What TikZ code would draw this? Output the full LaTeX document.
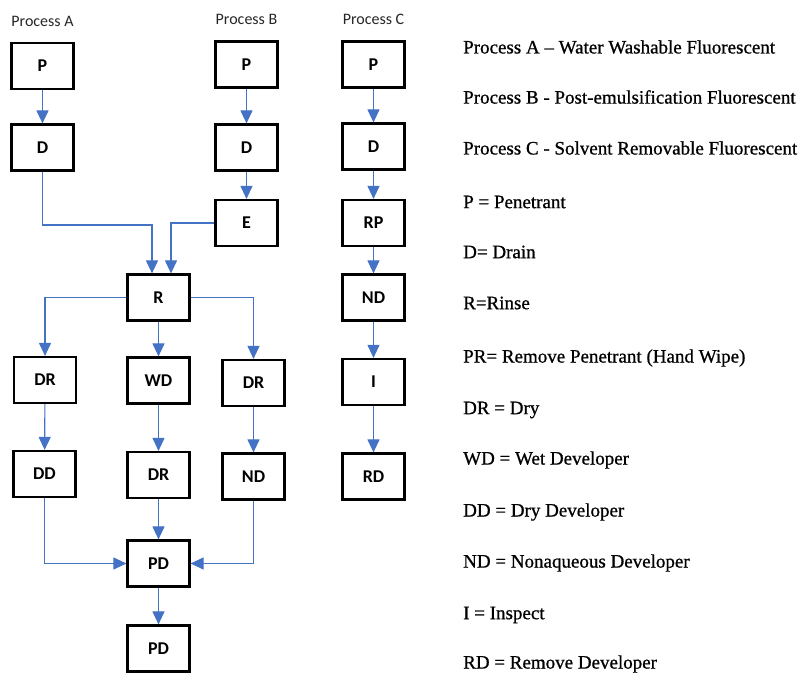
\documentclass[tikz,border=0pt]{standalone}
\usepackage{fontspec}
\setmainfont{Liberation Serif}
\newfontfamily\boxfont{Carlito}
\newfontfamily\legfont[FakeBold=0.8,Ligatures=TeX]{Liberation Serif}
\usetikzlibrary{arrows.meta}
\definecolor{arrblue}{HTML}{4472C4}
\tikzset{
  stepbox/.style={draw=black, line width=2.2pt, minimum width=62pt, minimum height=46pt, inner sep=0pt, font=\boxfont\bfseries\fontsize{18}{18}\selectfont},
  ttl/.style={font=\boxfont\fontsize{16}{16}\selectfont, inner sep=0pt, text=black!85},
  leg/.style={anchor=west, inner sep=0pt, font=\legfont\fontsize{19}{19}\selectfont},
  arr/.style={draw=arrblue, line width=1.1pt, -{Triangle[width=12pt,length=13pt,fill=arrblue]}}
}
\begin{document}
\begin{tikzpicture}[x=1pt,y=-1pt]
\useasboundingbox (0,0) rectangle (807,674);
% titles
\node[ttl] (tA) at (42.5,21) {Process A};
\node[ttl] (tB) at (246.5,19) {Process B};
\node[ttl] (tC) at (373.5,19) {Process C};
% Process A
\node[stepbox] (aP) at (42.5,66) {P};
\node[stepbox] (aD) at (42.5,147.5) {D};
% Process B
\node[stepbox] (bP) at (246.5,64.5) {P};
\node[stepbox] (bD) at (246.5,147.5) {D};
\node[stepbox] (bE) at (246.5,223) {E};
% Process C
\node[stepbox] (cP) at (373.5,64.5) {P};
\node[stepbox] (cD) at (373.5,146.5) {D};
\node[stepbox] (cRP) at (373.5,223) {RP};
\node[stepbox] (cND) at (373.5,297.5) {ND};
\node[stepbox] (cI) at (373.5,382) {I};
\node[stepbox] (cRD) at (373.5,476.5) {RD};
% shared
\node[stepbox] (R) at (158.5,297.5) {R};
\node[stepbox] (aDR) at (45,380) {DR};
\node[stepbox] (WD) at (158.5,380.5) {WD};
\node[stepbox] (bDR) at (253.5,383) {DR};
\node[stepbox] (aDD) at (44.5,474) {DD};
\node[stepbox] (mDR) at (158.5,475) {DR};
\node[stepbox] (bND) at (253.5,476.5) {ND};
\node[stepbox] (PD1) at (158.5,563.5) {PD};
\node[stepbox] (PD2) at (158.5,648.5) {PD};
% connectors
\draw[arr] (aP) -- (aD);
\draw[arr] (bP) -- (bD);
\draw[arr] (bD) -- (bE);
\draw[arr] (cP) -- (cD);
\draw[arr] (cD) -- (cRP);
\draw[arr] (cRP) -- (cND);
\draw[arr] (cND) -- (cI);
\draw[arr] (cI) -- (cRD);
\coordinate (rinA) at ([xshift=-6.5pt]R.north);
\coordinate (rinB) at ([xshift=12.5pt]R.north);
\draw[arr] (aD.south) |- ([yshift=-2pt]bE.west -| rinA) -- (rinA);
\draw[arr] (bE.west) -| (rinB);
\draw[arr] (R.west) -| (aDR.north);
\draw[arr] (R.east) -| (bDR.north);
\draw[arr] (R) -- (WD);
\draw[arr] (aDR) -- (aDD);
\draw[arr] (WD) -- (mDR);
\draw[arr] (bDR) -- (bND);
\draw[arr] (mDR) -- (PD1);
\draw[arr] (aDD.south) |- (PD1.west);
\draw[arr] (bND.south) |- (PD1.east);
\draw[arr] (PD1) -- (PD2);
% legend
\node[leg] (l1) at (463,47) {Process A – Water Washable Fluorescent};
\node[leg] (l2) at (463,97) {Process B - Post-emulsification Fluorescent};
\node[leg] (l3) at (463,148) {Process C - Solvent Removable Fluorescent};
\node[leg] (l4) at (463,202) {P = Penetrant};
\node[leg] (l5) at (463,252) {D= Drain};
\node[leg] (l6) at (463,303) {R=Rinse};
\node[leg] (l7) at (463,358) {PR= Remove Penetrant (Hand Wipe)};
\node[leg] (l8) at (463,410) {DR = Dry};
\node[leg] (l9) at (463,460) {WD = Wet Developer};
\node[leg] (l10) at (463,512) {DD = Dry Developer};
\node[leg] (l11) at (463,563) {ND = Nonaqueous Developer};
\node[leg] (l12) at (463,615) {I = Inspect};
\node[leg] (l13) at (463,664) {RD = Remove Developer};
\end{tikzpicture}
\end{document}
